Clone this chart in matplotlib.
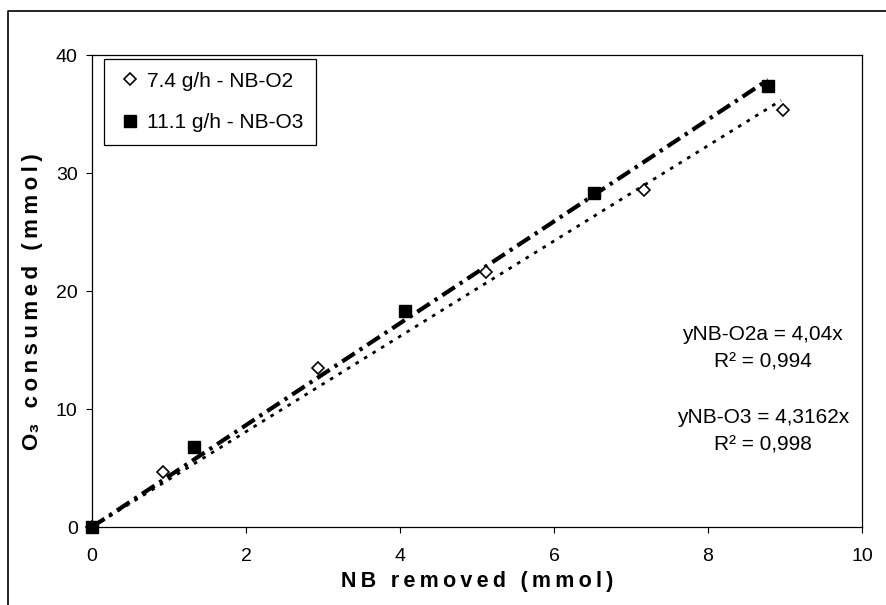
import numpy as np
import matplotlib
matplotlib.use("Agg")
import matplotlib.pyplot as plt
from matplotlib.lines import Line2D

plt.rcParams['font.family'] = ['Liberation Sans', 'DejaVu Sans']

# data
nb_o2_x = [0, 0.92, 2.94, 5.12, 7.17, 8.97]
nb_o2_y = [0, 4.7, 13.5, 21.6, 28.6, 35.3]
nb_o3_x = [0, 1.32, 4.07, 6.52, 8.78]
nb_o3_y = [0, 6.8, 18.3, 28.3, 37.4]
slope_o2 = 4.04
slope_o3 = 4.3162
fit_o2_end = 8.95
fit_o3_end = 8.78


def spaced(s, gap='\u2009'):
    # excel-style wide letter spacing
    out = ''
    for i, c in enumerate(s):
        out += c
        if i < len(s) - 1 and s[i+1] != '\u2083':
            out += gap
    return out


fig = plt.figure(figsize=(8.87, 6.05), dpi=100)
ax = fig.add_axes([92/887, 1-527/605, 770/887, 472/605])

# outer frame of the chart (cut at right and bottom)
fig.add_artist(Line2D([8/887, 8/887, 1.0], [0.0, 1-11/605, 1-11/605],
                      transform=fig.transFigure, color='black', lw=1.2))

# trend lines
xs = np.array([0, fit_o2_end])
ax.plot(xs, slope_o2*xs, color='black', lw=2.0, dashes=(1.3, 2.3),
        dash_capstyle='butt', zorder=2)
xs = np.array([0, fit_o3_end])
ax.plot(xs, slope_o3*xs, color='black', lw=3.0, dashes=(3.6, 1.4, 0.8, 1.4),
        dash_capstyle='butt', zorder=2)

# points
ax.plot(nb_o2_x, nb_o2_y, linestyle='none', marker='D', markersize=6.2,
        markerfacecolor='white', markeredgecolor='black', markeredgewidth=1.2,
        label='7.4 g/h - NB-O2', zorder=3, clip_on=False)
ax.plot(nb_o3_x, nb_o3_y, linestyle='none', marker='s', markersize=9.2,
        markerfacecolor='black', markeredgecolor='black',
        label='11.1 g/h - NB-O3', zorder=4, clip_on=False)

ax.set_xlim(0, 10)
ax.set_ylim(0, 40)
ax.set_xticks([0, 2, 4, 6, 8, 10])
ax.set_yticks([0, 10, 20, 30, 40])
ax.tick_params(direction='out', length=4.3, width=0.8, labelsize=14)
ax.tick_params(axis='x', pad=11)
ax.tick_params(axis='y', pad=6)
for s in ax.spines.values():
    s.set_linewidth(0.9)

ax.set_xlabel(spaced('NB removed (mmol)'), fontsize=15.5, fontweight='bold',
              va='center')
ax.xaxis.set_label_coords(0.5, -(582-527)/472)
ax.set_ylabel(spaced('O\u2083 consumed (mmol)'), fontsize=16,
              fontweight='bold', va='center', ha='center')
ax.yaxis.set_label_coords(-(92-33)/770, 1-(302-55)/472)

leg = ax.legend(loc='upper left', bbox_to_anchor=(0.0156, 0.9915),
                borderaxespad=0, fancybox=False, edgecolor='black',
                fontsize=15, labelspacing=1.07, handlelength=1.25,
                handletextpad=0.2, borderpad=0.61, framealpha=1,
                markerscale=0.95)
leg.get_frame().set_linewidth(0.9)
leg.set_zorder(5)

ax.text(8.71, 16.3, 'yNB-O2a = 4,04x', ha='center', va='center', fontsize=15)
ax.text(8.71, 14.0, 'R\u00b2 = 0,994', ha='center', va='center', fontsize=15)
ax.text(8.71, 9.3, 'yNB-O3 = 4,3162x', ha='center', va='center', fontsize=15)
ax.text(8.71, 6.95, 'R\u00b2 = 0,998', ha='center', va='center', fontsize=15)

fig.savefig('out.png', dpi=100)
